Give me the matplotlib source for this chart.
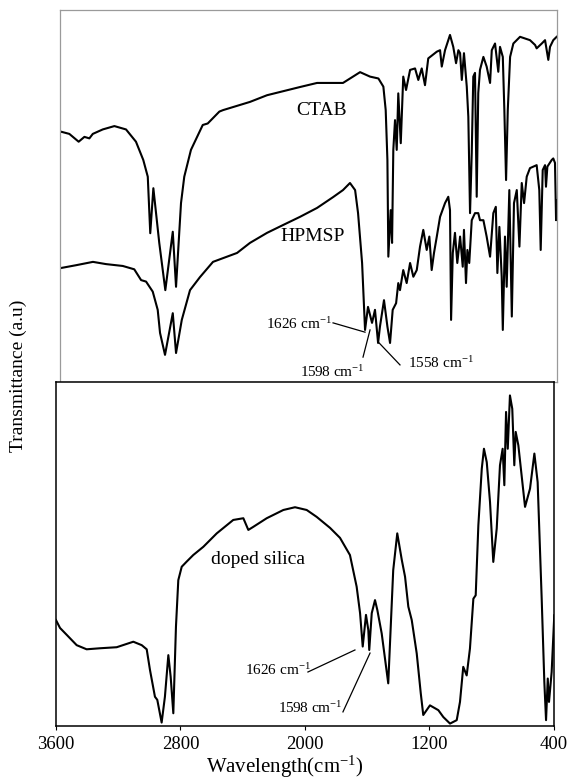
import matplotlib
matplotlib.use("Agg")
import matplotlib.pyplot as plt

plt.rcParams['font.family'] = ['Liberation Serif', 'DejaVu Serif']
plt.rcParams['mathtext.fontset'] = 'custom'
plt.rcParams['mathtext.rm'] = 'Liberation Serif'
plt.rcParams['mathtext.default'] = 'regular'

# CTAB spectrum, wavenumber (cm-1) vs transmittance (a.u.)
ctab_wn = [3600, 3594, 3540, 3480, 3443, 3411, 3389, 3325, 3250, 3175,
           3111, 3064, 3035, 3019, 2999, 2961, 2922, 2874, 2853, 2821,
           2800, 2757, 2681, 2649, 2574, 2550, 2377, 2267, 2055, 1945,
           1778, 1668, 1604, 1550, 1518, 1503, 1492, 1486, 1471, 1462,
           1454, 1443, 1432, 1422, 1406, 1390, 1372, 1346, 1314, 1293,
           1271, 1250, 1229, 1174, 1153, 1142, 1121, 1089, 1068, 1050,
           1035, 1024, 1013, 999, 981, 971, 960, 949, 939, 928,
           917, 907, 896, 874, 853, 831, 820, 799, 778, 767,
           749, 739, 728, 717, 702, 681, 638, 574, 541, 531,
           498, 477, 456, 445, 424, 402]
ctab_t = [67.0, 67.3, 66.7, 64.6, 65.9, 65.5, 66.7, 67.9, 68.8, 67.9,
          64.6, 59.7, 55.2, 40.0, 52.1, 37.4, 24.7, 40.4, 25.6, 48.1,
          55.2, 62.4, 69.1, 69.5, 72.7, 73.1, 75.3, 77.1, 79.3, 80.4,
          80.4, 83.3, 82.1, 81.6, 79.4, 73.1, 59.7, 33.7, 46.2, 37.4,
          62.4, 70.4, 62.4, 77.6, 64.2, 82.1, 78.5, 83.9, 84.3, 81.2,
          84.3, 79.8, 87.0, 88.8, 89.2, 84.8, 89.2, 93.3, 90.1, 85.7,
          89.2, 88.4, 81.2, 88.4, 79.4, 71.3, 45.4, 61.6, 82.1, 83.1,
          49.8, 77.7, 83.9, 87.4, 84.8, 80.4, 89.2, 91.0, 83.4, 90.1,
          87.4, 73.1, 54.3, 73.1, 87.4, 91.0, 92.8, 91.9, 90.6, 89.7,
          91.0, 91.9, 86.6, 90.1, 91.9, 92.8]

# HPMSP spectrum
hpmsp_wn = [3600, 3497, 3388, 3304, 3196, 3122, 3078, 3046, 3003, 2971,
            2956, 2924, 2874, 2853, 2816, 2763, 2699, 2615, 2460, 2377,
            2267, 2164, 2055, 1945, 1842, 1778, 1733, 1700, 1681, 1655,
            1636, 1617, 1591, 1572, 1552, 1540, 1514, 1492, 1475, 1458,
            1436, 1422, 1411, 1390, 1368, 1346, 1325, 1303, 1282, 1261,
            1239, 1222, 1207, 1192, 1174, 1153, 1121, 1100, 1089, 1082,
            1071, 1057, 1042, 1024, 1007, 999, 986, 977, 965, 949,
            928, 907, 896, 874, 853, 831, 810, 794, 784, 771,
            756, 749, 735, 724, 707, 691, 677, 659, 642, 627,
            612, 595, 574, 531, 514, 505, 492, 477, 471, 462,
            434, 424, 413, 406, 400]
hpmsp_t = [30.6, 31.4, 32.3, 31.7, 31.2, 30.3, 27.4, 27.0, 24.3, 19.4,
           13.2, 7.3, 18.5, 7.8, 16.7, 24.7, 28.2, 32.3, 34.7, 37.4,
           40.1, 42.2, 44.4, 46.8, 49.7, 51.6, 53.5, 51.6, 45.4, 32.0,
           14.0, 20.2, 15.9, 19.4, 10.5, 14.9, 22.0, 14.9, 10.5, 19.4,
           21.2, 26.6, 24.7, 30.1, 26.6, 32.0, 28.3, 30.1, 36.4, 40.9,
           35.5, 39.1, 30.1, 34.7, 39.1, 44.4, 48.1, 49.8, 46.2, 16.7,
           34.7, 40.1, 32.0, 39.1, 31.0, 40.9, 26.6, 35.5, 32.0, 43.5,
           45.4, 45.4, 43.5, 43.5, 39.1, 33.7, 45.4, 47.1, 29.3, 41.7,
           28.3, 14.0, 39.1, 25.6, 51.6, 17.6, 48.1, 51.6, 36.4, 53.5,
           48.1, 55.2, 57.5, 58.3, 51.6, 35.5, 57.0, 58.3, 52.5, 57.9,
           59.7, 60.1, 58.9, 43.5, 48.9]

# doped silica spectrum
silica_wn = [3600, 3574, 3531, 3467, 3403, 3317, 3210, 3103, 3049, 3017,
             2996, 2964, 2949, 2921, 2900, 2878, 2863, 2846, 2829, 2814,
             2792, 2760, 2718, 2653, 2567, 2461, 2396, 2364, 2332, 2246,
             2139, 2064, 1989, 1925, 1839, 1775, 1711, 1668, 1646, 1629,
             1608, 1593, 1587, 1571, 1550, 1535, 1507, 1465, 1433, 1407,
             1378, 1357, 1336, 1314, 1282, 1256, 1240, 1197, 1143, 1111,
             1068, 1025, 1004, 983, 961, 940, 918, 903, 886, 864,
             850, 832, 811, 790, 768, 747, 730, 719, 708, 697,
             683, 668, 655, 646, 629, 586, 554, 526, 505, 479,
             462, 451, 440, 432, 415, 398]
silica_t = [30.8, 28.5, 26.5, 23.5, 22.3, 22.6, 22.9, 24.5, 23.5, 22.3,
            16.3, 8.5, 7.6, 1.0, 8.5, 20.6, 14.3, 3.7, 28.9, 42.4,
            46.3, 47.8, 49.7, 52.1, 56.0, 59.9, 60.4, 57.0, 57.9, 60.4,
            62.8, 63.6, 62.8, 60.8, 57.6, 54.7, 49.7, 40.5, 32.8, 23.1,
            32.3, 27.9, 22.1, 32.8, 36.6, 33.7, 26.9, 12.4, 45.3, 56.0,
            48.3, 43.4, 34.7, 30.8, 21.1, 9.5, 3.2, 6.0, 4.6, 2.6,
            0.7, 1.7, 7.0, 17.2, 14.7, 22.5, 37.0, 38.0, 58.3, 74.8,
            80.6, 76.7, 65.1, 47.7, 57.4, 75.8, 80.6, 70.0, 91.3, 80.6,
            96.1, 92.2, 75.8, 85.5, 81.6, 63.7, 69.0, 79.2, 70.9, 37.0,
            12.8, 1.7, 13.8, 7.0, 15.7, 32.2]

xticks = [3600, 2800, 2000, 1200, 400]

fig = plt.figure(figsize=(5.7, 7.83), dpi=100)
ax_top = fig.add_axes([0.1053, 0.5121, 0.8719, 0.4751])
ax_bot = fig.add_axes([0.0982, 0.0728, 0.8737, 0.4393])

# top panel
ax_top.plot(ctab_wn, ctab_t, color='black', lw=1.5)
ax_top.plot(hpmsp_wn, hpmsp_t, color='black', lw=1.5)
ax_top.set_xlim(3600, 400)
ax_top.set_ylim(0, 100)
ax_top.set_xticks([])
ax_top.set_yticks([])
for s in ax_top.spines.values():
    s.set_color('#9a9a9a')
    s.set_linewidth(0.9)

ax_top.text(1913, 73.1, 'CTAB', fontsize=14, ha='center', va='center')
ax_top.text(1971, 39.0, 'HPMSP', fontsize=14, ha='center', va='center')
ax_top.text(1850, 15.6, '1626 cm$^{-1}$', fontsize=11, ha='right', va='center')
ax_top.plot([1842, 1636], [15.9, 13.4], color='black', lw=0.9)
ax_top.text(1849, 2.6, '1598 cm$^{-1}$', fontsize=11, ha='center', va='center')
ax_top.plot([1649, 1604], [6.7, 14.0], color='black', lw=0.9)
ax_top.text(1362, 5.1, '1558 cm$^{-1}$', fontsize=11, ha='left', va='center')
ax_top.plot([1411, 1552], [4.6, 10.8], color='black', lw=0.9)

# bottom panel
ax_bot.plot(silica_wn, silica_t, color='black', lw=1.5)
ax_bot.set_xlim(3600, 400)
ax_bot.set_ylim(0, 100)
ax_bot.set_xticks(xticks)
ax_bot.set_xticklabels([str(v) for v in xticks], fontsize=13.5)
ax_bot.set_yticks([])
ax_bot.tick_params(axis='x', length=3, width=0.8, pad=4)
for s in ax_bot.spines.values():
    s.set_color('black')
    s.set_linewidth(1.1)

ax_bot.text(2302, 48.3, 'doped silica', fontsize=14, ha='center', va='center')
ax_bot.text(1965, 16.3, '1626 cm$^{-1}$', fontsize=11, ha='right', va='center')
ax_bot.plot([1981, 1679], [15.7, 22.1], color='black', lw=0.9)
ax_bot.text(1968, 5.2, '1598 cm$^{-1}$', fontsize=11, ha='center', va='center')
ax_bot.plot([1756, 1582], [4.1, 21.2], color='black', lw=0.9)

fig.text(0.5, 0.02, 'Wavelength(cm$^{-1}$)', fontsize=15, ha='center', va='center')
fig.text(0.032, 0.52, 'Transmittance (a.u)', fontsize=14, rotation=90,
         ha='center', va='center')

fig.savefig('out.png', dpi=100)
